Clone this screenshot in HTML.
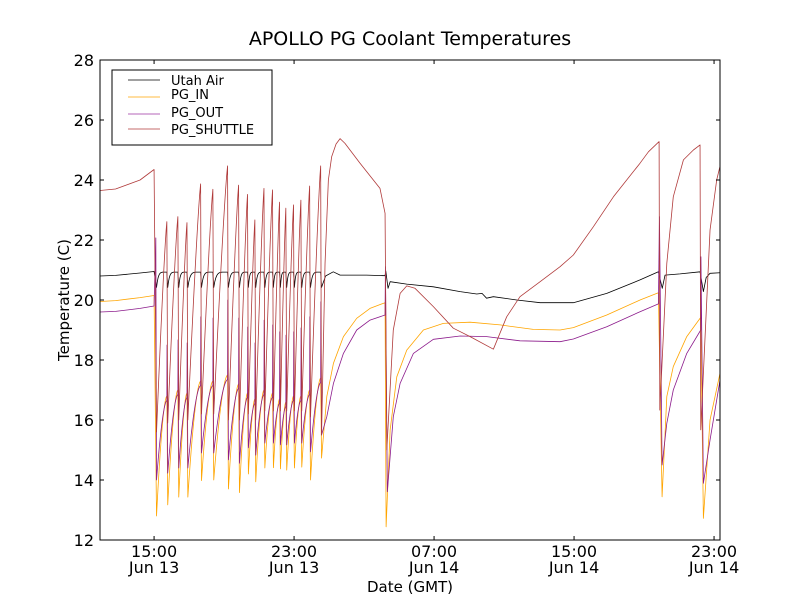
<!DOCTYPE html>
<html><head><meta charset="utf-8"><style>
body{margin:0;background:#fff;}
svg text{font-family:"DejaVu Sans","Liberation Sans",sans-serif;}
</style></head><body>
<svg id="chart" width="800" height="600" viewBox="0 0 800 600" xmlns="http://www.w3.org/2000/svg">
<rect width="800" height="600" fill="#fff"/>
<text x="410" y="45" font-size="19" text-anchor="middle">APOLLO PG Coolant Temperatures</text>
<defs><clipPath id="clip"><rect x="100" y="60" width="620" height="480"/></clipPath></defs>
<g id="series" clip-path="url(#clip)"></g>
<rect x="100" y="60" width="620" height="480" fill="none" stroke="#000" stroke-width="1"/>
<g id="axes"></g>
<text x="410" y="592" font-size="15" text-anchor="middle">Date (GMT)</text>
<text transform="translate(69,300) rotate(-90)" font-size="15" text-anchor="middle">Temperature (C)</text>
<g>
<rect x="112" y="70" width="160" height="75" fill="#fff" stroke="#000" stroke-width="1"/>
<line x1="128" y1="80" x2="160" y2="80" stroke="#000" stroke-width="0.8"/>
<text x="171" y="85" font-size="13">Utah Air</text>
<line x1="128" y1="97" x2="160" y2="97" stroke="#FFA500" stroke-width="0.8"/>
<text x="171" y="99" font-size="13">PG_IN</text>
<line x1="128" y1="114" x2="160" y2="114" stroke="#9B30A0" stroke-width="0.8"/>
<text x="171" y="117" font-size="13">PG_OUT</text>
<line x1="128" y1="129" x2="160" y2="129" stroke="#B03A3A" stroke-width="0.8"/>
<text x="171" y="134" font-size="13">PG_SHUTTLE</text>
</g>
</svg>
<script>
// hours since Jun 13 00:00 GMT
const yTicks = [12,14,16,18,20,22,24,26,28];
const xTickHours = [15,23,31,39,47];
const xTickTime = ["15:00","23:00","07:00","15:00","23:00"];
const xTickDay = ["Jun 13","Jun 13","Jun 14","Jun 14","Jun 14"];

// sawtooth cycles (drop events)
const sawDrops = [15.10,15.74,16.37,16.89,17.67,18.37,19.21,19.84,20.35,20.77,21.29,21.78,22.18,22.54,22.98,23.40,23.90,24.53];
const shuttlePeaks = [24.35,22.61,22.78,22.58,23.87,23.69,24.47,23.83,23.52,22.67,23.72,23.67,23.26,23.06,23.17,23.33,23.80,24.47];
const shuttleLows = [15.6,15.9,16.0,16.0,16.2,16.2,16.0,16.0,16.2,16.0,16.3,16.3,16.3,16.3,16.3,16.3,16.1,15.5];
const inEnds = [20.15,16.8,17.0,16.9,17.3,17.3,17.5,17.2,16.9,16.7,17.0,16.9,16.7,16.6,16.8,16.8,17.0,17.4];
const inLows = [12.8,13.17,13.43,13.43,13.98,14.0,13.7,13.58,14.2,13.94,14.4,14.41,14.37,14.33,14.4,14.43,14.0,14.73];
const outEnds = [19.8,16.65,16.85,16.75,17.15,17.15,17.35,17.05,16.75,16.55,16.85,16.75,16.55,16.45,16.65,16.65,16.85,17.25];
const outSpikes = [22.07,18.5,18.67,18.57,19.44,19.4,20.0,19.4,19.1,18.57,19.33,19.17,18.94,18.83,18.94,19.07,19.44,19.94];
const outLows = [14.0,14.23,14.4,14.4,14.9,14.9,14.67,14.56,15.07,14.83,15.23,15.23,15.17,15.17,15.23,15.23,14.94,15.5];
const airEnds = [20.95,20.93,20.93,20.93,20.93,20.93,20.93,20.93,20.93,20.93,20.93,20.93,20.93,20.93,20.93,20.93,20.93,20.93];
const airLows = [20.42,20.42,20.42,20.42,20.42,20.42,20.42,20.42,20.42,20.42,20.42,20.42,20.42,20.42,20.42,20.42,20.42,20.42];

// before first drop
const preHours = [11.9,12.8,14.2,15.0];
const preAir = [20.8,20.82,20.9,20.95];
const preIn = [19.95,19.98,20.08,20.15];
const preOut = [19.6,19.62,19.72,19.8];
const preShuttle = [23.65,23.7,24.0,24.35];

// after last saw drop (explicit)
const tailShuttleH = [24.53,24.77,24.96,25.15,25.4,25.63,25.91,26.77,27.91,28.2,28.3,28.67,29.06,29.44,29.91,30.96,32.1,33.06,34.39,35.15,35.91,37.06,38.2,38.96,40.1,41.25,42.77,43.25,43.86,43.9,44.3,44.67,45.25,45.82,46.2,46.24,46.77,47.15,47.4];
const tailShuttleV = [15.5,21.22,24.0,24.78,25.2,25.38,25.22,24.56,23.72,22.89,15.0,19.0,20.22,20.47,20.39,19.78,19.06,18.78,18.36,19.44,20.11,20.61,21.11,21.5,22.44,23.44,24.56,24.94,25.28,16.33,21.22,23.44,24.67,25.0,25.17,15.67,22.33,24.0,24.6];
const tailInH = [24.53,24.87,25.25,25.82,26.58,27.34,28.2,28.26,28.49,28.87,29.44,30.39,31.53,33.06,34.77,36.67,38.2,38.96,40.87,42.77,43.82,44.03,44.3,44.67,45.44,46.24,46.39,46.77,47.34];
const tailInV = [14.73,16.78,17.89,18.78,19.39,19.72,19.91,12.44,15.67,17.44,18.33,19.0,19.22,19.26,19.17,19.02,19.0,19.08,19.5,20.0,20.24,13.44,16.78,17.78,18.78,19.42,12.72,16.0,17.56];
const tailOutH = [24.53,24.87,25.25,25.82,26.58,27.34,28.2,28.22,28.33,28.67,29.06,29.82,30.96,32.49,34.01,35.91,38.2,38.96,40.87,42.77,43.82,43.88,44.03,44.3,44.67,45.44,46.24,46.25,46.39,46.77,47.34];
const tailOutV = [15.5,16.11,17.22,18.22,19.0,19.33,19.5,21.11,13.61,16.11,17.22,18.22,18.69,18.8,18.78,18.64,18.61,18.7,19.11,19.61,19.87,22.78,14.5,15.89,17.0,18.22,19.0,21.44,13.89,15.33,17.33];
const tailAirH = [24.53,24.8,25.24,25.63,27.15,28.2,28.24,28.37,28.49,29.44,30.96,32.49,33.44,33.74,34.0,34.39,35.73,37.06,38.96,40.87,42.77,43.82,44.04,44.2,45.06,46.2,46.39,46.55,46.77,47.4];
const tailAirV = [20.44,20.8,20.94,20.83,20.83,20.81,20.97,20.39,20.61,20.53,20.44,20.28,20.2,20.22,20.06,20.11,20.0,19.91,19.91,20.22,20.67,20.94,20.39,20.83,20.87,20.94,20.28,20.75,20.89,20.91];

const X0=100,X1=720,Y0=540,Y1=60, HMIN=11.91, HMAX=47.34, VMIN=12, VMAX=28;
function xs(h){return X0+(h-HMIN)/(HMAX-HMIN)*(X1-X0);}
function ys(v){return Y0-(v-VMIN)/(VMAX-VMIN)*(Y0-Y1);}
const NS="http://www.w3.org/2000/svg";

function recover(pts,t0,t1,v0,v1,k){
  const n=14;
  for(let j=1;j<=n;j++){const s=j/n;pts.push([t0+(t1-t0)*s, v0+(v1-v0)*(1-Math.pow(1-s,k))]);}
}
function buildSaw(pre,preH,lows,ends,spikes,k){
  const pts=preH.map((h,i)=>[h,pre[i]]);
  for(let i=0;i<sawDrops.length;i++){
    const d=sawDrops[i];
    if(spikes) pts.push([d,spikes[i]]);
    pts.push([d+0.04,lows[i]]);
    if(i+1<sawDrops.length){recover(pts,d+0.04,sawDrops[i+1]-0.01,lows[i],ends[i+1],k);}
  }
  return pts;
}
function addTail(pts,H,V){for(let i=1;i<H.length&&i<V.length;i++)pts.push([H[i],V[i]]);return pts;}

const air = addTail(buildSaw(preAir,preHours,airLows,airEnds,null,6),tailAirH,tailAirV);
const pin = addTail(buildSaw(preIn,preHours,inLows,inEnds,null,1.7),tailInH,tailInV);
const pout = addTail(buildSaw(preOut,preHours,outLows,outEnds,outSpikes,1.7),tailOutH,tailOutV);
const shut = addTail(buildSaw(preShuttle,preHours,shuttleLows,shuttlePeaks,null,1.2),tailShuttleH,tailShuttleV);

const g=document.getElementById('series');
function drawLine(pts,color,name){
  const p=document.createElementNS(NS,'polyline');
  p.setAttribute('points',pts.map(q=>xs(q[0]).toFixed(2)+','+ys(q[1]).toFixed(2)).join(' '));
  p.setAttribute('fill','none');p.setAttribute('stroke',color);p.setAttribute('stroke-width','0.8');
  p.setAttribute('stroke-linejoin','round');
  
  
  g.appendChild(p);
}
drawLine(air,'#000000','series-utah-air');
drawLine(pin,'#FFA500','series-pg-in');
drawLine(pout,'#8B1A8B','series-pg-out');
drawLine(shut,'#B03A3A','series-pg-shuttle');

const ax=document.getElementById('axes');
yTicks.forEach(v=>{
  const y=ys(v);
  [[100,104],[720,716]].forEach(a=>{
    const l=document.createElementNS(NS,'line');
    l.setAttribute('x1',a[0]);l.setAttribute('x2',a[1]);l.setAttribute('y1',y);l.setAttribute('y2',y);l.setAttribute('stroke','#000');
    
    
    ax.appendChild(l);
  });
  const t=document.createElementNS(NS,'text');
  t.setAttribute('x',94);t.setAttribute('y',y+6);t.setAttribute('text-anchor','end');t.setAttribute('font-size','16');
  t.textContent=v;
  
  
  ax.appendChild(t);
});
xTickHours.forEach((h,i)=>{
  const x=xs(h);
  [[540,536],[60,64]].forEach(a=>{
    const l=document.createElementNS(NS,'line');
    l.setAttribute('x1',x);l.setAttribute('x2',x);l.setAttribute('y1',a[0]);l.setAttribute('y2',a[1]);l.setAttribute('stroke','#000');
    
    
    ax.appendChild(l);
  });
  const t=document.createElementNS(NS,'text');
  t.setAttribute('x',x);t.setAttribute('y',557);t.setAttribute('text-anchor','middle');t.setAttribute('font-size','16');
  t.textContent=xTickTime[i];
  
  
  ax.appendChild(t);
  const t2=document.createElementNS(NS,'text');
  t2.setAttribute('x',x);t2.setAttribute('y',573);t2.setAttribute('text-anchor','middle');t2.setAttribute('font-size','16');
  t2.textContent=xTickDay[i];
  
  
  ax.appendChild(t2);
});
</script>
</body></html>
